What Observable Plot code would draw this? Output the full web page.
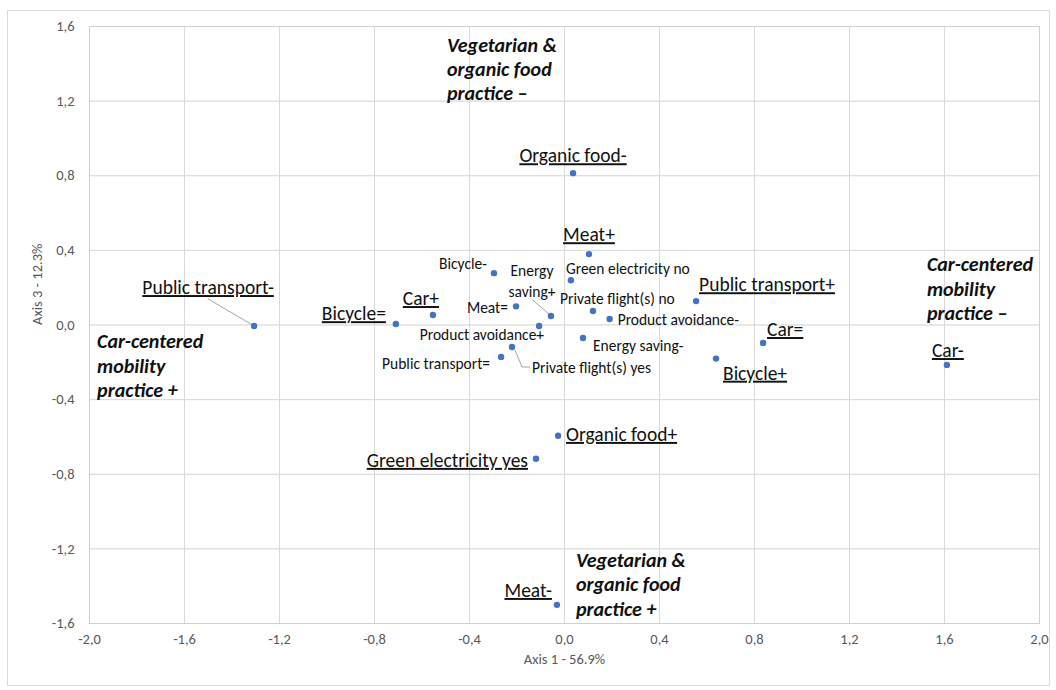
<!DOCTYPE html>
<html><head><meta charset="utf-8">
<script src="https://cdn.jsdelivr.net/npm/d3@7"></script>
<script src="https://cdn.jsdelivr.net/npm/@observablehq/plot@0.6"></script>
<style>
body{margin:0;background:#fff;}
#chart{position:relative;width:1056px;height:690px;}
#frame{position:absolute;left:7px;top:10px;width:1043px;height:676px;border:1px solid #d9d9d9;box-sizing:border-box;pointer-events:none;}
#chart svg{position:absolute;left:0;top:0;}
</style></head><body><div id="chart"><div id="frame"></div></div>
<script>
// ---- data ----
const categories = ["Public transport-","Bicycle=","Car+","Bicycle-","Energy saving+","Meat=","Green electricity no","Private flight(s) no","Product avoidance-","Product avoidance+","Energy saving-","Public transport=","Private flight(s) yes","Organic food-","Meat+","Public transport+","Car=","Bicycle+","Car-","Organic food+","Green electricity yes","Meat-"];
const axis1 = [-1.307,-0.71,-0.554,-0.297,-0.057,-0.204,0.027,0.12,0.19,-0.107,0.078,-0.267,-0.221,0.036,0.103,0.554,0.836,0.638,1.61,-0.027,-0.12,-0.032];
const axis3 = [-0.005,0.005,0.054,0.278,0.048,0.10,0.24,0.075,0.032,-0.005,-0.07,-0.171,-0.118,0.814,0.38,0.128,-0.096,-0.18,-0.214,-0.594,-0.717,-1.50];
const xTicks = [-2.0,-1.6,-1.2,-0.8,-0.4,0.0,0.4,0.8,1.2,1.6,2.0];
const yTicks = [-1.6,-1.2,-0.8,-0.4,0.0,0.4,0.8,1.2,1.6];
const xTitle = "Axis 1 - 56.9%";
const yTitle = "Axis 3 - 12.3%";
const annotations = [
  {text: "Vegetarian &\norganic food\npractice \u2013", x: -0.495, y: 1.376},
  {text: "Car-centered\nmobility\npractice \u2013", x: 1.526, y: 0.198},
  {text: "Car-centered\nmobility\npractice +", x: -1.968, y: -0.214},
  {text: "Vegetarian &\norganic food\npractice +", x: 0.048, y: -1.386}
];

// ---- layout (label placement, px offsets from the point) ----
const labelLayout = {
  "Public transport-": {dx:-46, dy:-40, anchor:"middle", big:true, leader:[[0,0],[-46,-27]]},
  "Bicycle=": {dx:-10, dy:-12, anchor:"end", big:true},
  "Car+": {dx:-12, dy:-18, anchor:"middle", big:true},
  "Bicycle-": {dx:-7, dy:-11, anchor:"end"},
  "Energy saving+": {dx:-19, dy:-36, anchor:"middle", text:"Energy\nsaving+", leader:[[-2,-2],[-18,-16]]},
  "Meat=": {dx:-8, dy:0, anchor:"end"},
  "Green electricity no": {dx:-5, dy:-13, anchor:"start"},
  "Private flight(s) no": {dx:-33, dy:-13, anchor:"start"},
  "Product avoidance-": {dx:8, dy:0, anchor:"start"},
  "Product avoidance+": {dx:5, dy:8, anchor:"end"},
  "Energy saving-": {dx:10, dy:6, anchor:"start"},
  "Public transport=": {dx:-11, dy:6, anchor:"end"},
  "Private flight(s) yes": {dx:20, dy:20, anchor:"start", leader:[[3,3],[10,20],[18,20]]},
  "Organic food-": {dx:0, dy:-19, anchor:"middle", big:true},
  "Meat+": {dx:0, dy:-21, anchor:"middle", big:true},
  "Public transport+": {dx:3, dy:-18, anchor:"start", big:true},
  "Car=": {dx:4, dy:-15, anchor:"start", big:true},
  "Bicycle+": {dx:7, dy:13, anchor:"start", big:true},
  "Car-": {dx:1, dy:-16, anchor:"middle", big:true},
  "Organic food+": {dx:8, dy:-3, anchor:"start", big:true},
  "Green electricity yes": {dx:-8, dy:0, anchor:"end", big:true},
  "Meat-": {dx:-5, dy:-16, anchor:"end", big:true}
};

const W = 1056, H = 690, mL = 89, mR = 17, mT = 26, mB = 67;
const kx = (W - mL - mR) / 4, ky = (H - mT - mB) / 3.2;
const points = categories.map((c, i) => ({name: c, x: axis1[i], y: axis3[i]}));
const fmt = d => d.toFixed(1).replace(".", ",").replace("-0,0","0,0");
const FONT = "Carlito, Lato, sans-serif";
const bigNames = new Set(categories.filter(c => labelLayout[c].big));

const labelMarks = points.map(p => {
  const L = labelLayout[p.name];
  return Plot.text([p], {
    x: "x", y: "y", text: d => L.text || d.name,
    dx: L.dx, dy: L.dy, textAnchor: L.anchor,
    fontSize: L.big ? 19.5 : 15.5, fill: "#111",
    lineHeight: 1.3
  });
});
const leaderMarks = points.filter(p => labelLayout[p.name].leader).map(p => {
  const pts = labelLayout[p.name].leader.map(([ox, oy]) => ({x: p.x + ox / kx, y: p.y - oy / ky}));
  return Plot.line(pts, {x: "x", y: "y", stroke: "#a6a6a6", strokeWidth: 1});
});

const plot = Plot.plot({
  width: W, height: H,
  marginLeft: mL, marginRight: mR, marginTop: mT, marginBottom: mB,
  style: {fontFamily: FONT, fontSize: "14.5px", color: "#595959", background: "transparent"},
  x: {domain: [-2, 2], ticks: xTicks, tickFormat: fmt, tickSize: 0, tickPadding: 10, grid: true, label: null},
  y: {domain: [-1.6, 1.6], ticks: yTicks, tickFormat: fmt, tickSize: 0, tickPadding: 15, grid: true, label: null},
  marks: [
    Plot.gridX(xTicks, {stroke: "#d9d9d9", strokeOpacity: 1}),
    Plot.gridY(yTicks, {stroke: "#d9d9d9", strokeOpacity: 1}),
    Plot.frame({stroke: "#d0d0d0"}),
    ...leaderMarks,
    Plot.dot(points, {x: "x", y: "y", r: 3.2, fill: "#4472C4", stroke: "none"}),
    ...labelMarks,
    Plot.text(annotations, {x: "x", y: "y", text: "text", textAnchor: "start", fontSize: 20, fontWeight: "bold", fontStyle: "italic", fill: "#111", lineHeight: 1.22}),
    Plot.text([xTitle], {frameAnchor: "bottom", text: d => d, dy: 40, fontSize: 14.5, fill: "#595959"}),
    Plot.text([yTitle], {frameAnchor: "left", text: d => d, dx: -52, rotate: -90, fontSize: 14.5, fill: "#595959"})
  ]
});
plot.querySelectorAll("text").forEach(t => {
  if (bigNames.has(t.textContent.trim())) {
    t.setAttribute("text-decoration", "underline");
    t.style.textDecoration = "underline";
  }
});
document.getElementById("chart").appendChild(plot);
</script>
</body></html>
